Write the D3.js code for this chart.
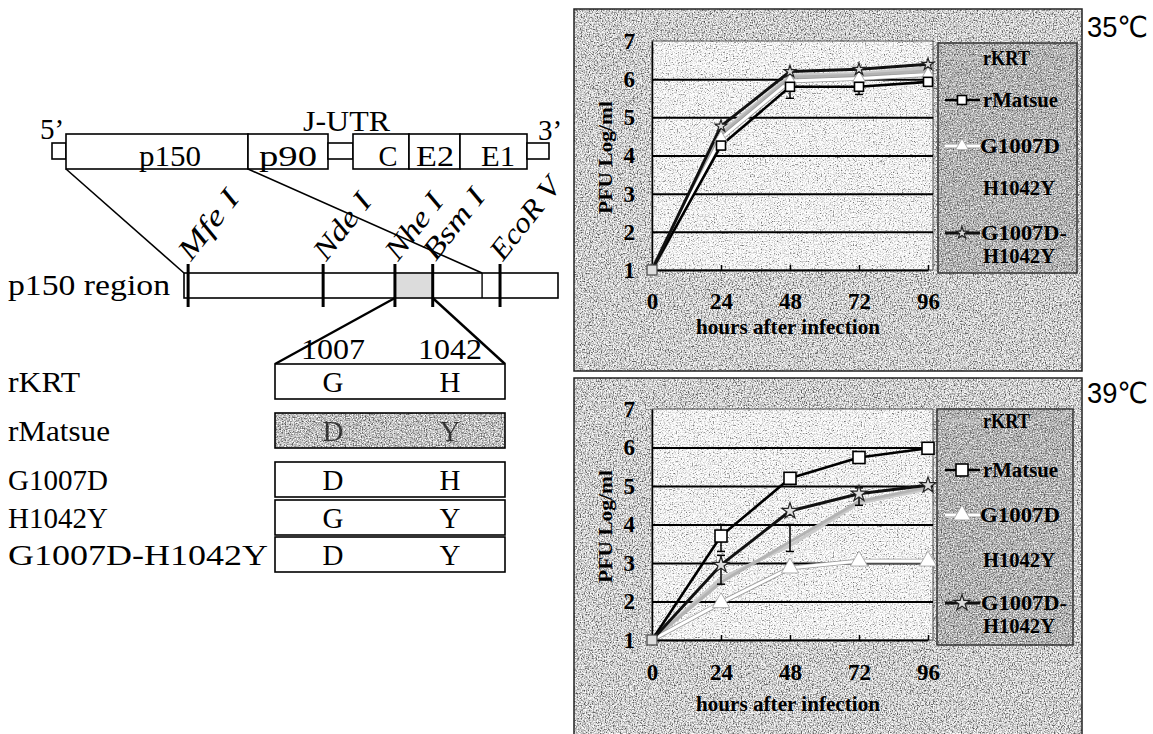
<!DOCTYPE html>
<html>
<head>
<meta charset="utf-8">
<script src="https://cdn.jsdelivr.net/npm/d3@7"></script>
<style>
  body { margin: 0; background: #fff; }
  svg { display: block; }
  text { font-family: "Liberation Serif", "Times New Roman", serif; fill: #000; }
</style>
</head>
<body>
<svg id="fig" width="1153" height="734"></svg>
<script>
// ---- chart data ----
const hours = [0, 24, 48, 72, 96];
const yTicks = [1, 2, 3, 4, 5, 6, 7];
const gridTicks = [2, 3, 4, 5, 6];
const seriesNames = ["rKRT", "rMatsue", "G1007D", "H1042Y", "G1007D-H1042Y"];

// 35 C
const rKRT35 = [1, 4.6, 6.1, 6.15, 6.3];
const rMatsue35 = [1, 4.26, 5.8, 5.8, 5.93];
const g1007d35 = [1, 4.45, 5.95, 6.02, 6.12];
const h1042y35 = [1, 4.55, 6.05, 6.1, 6.22];
const double35 = [1, 4.77, 6.2, 6.26, 6.39];
const errBars35 = [
  { name: "rMatsue", hour: 48, lo: 5.5, hi: 5.85 },
  { name: "rMatsue", hour: 72, lo: 5.6, hi: 5.85 }
];

// 39 C
const rKRT39 = [1, 2.6, 3.45, 4.55, 4.92];
const rMatsue39 = [1, 3.7, 5.2, 5.74, 5.98];
const g1007d39 = [1, 1.97, 2.87, 3.05, 3.05];
const h1042y39 = [1, 2.5, 3.55, 4.6, 4.97];
const double39 = [1, 2.95, 4.35, 4.8, 5.02];
const errBars39 = [
  { name: "rMatsue", hour: 24, lo: 3.3, hi: 4.0 },
  { name: "G1007D-H1042Y", hour: 24, lo: 2.45, hi: 3.2 },
  { name: "H1042Y", hour: 48, lo: 3.3, hi: 4.0 },
  { name: "G1007D-H1042Y", hour: 72, lo: 4.5, hi: 4.95 }
];

// ---- schematic data ----
const genomeParts = [
  { label: "", from: 0, to: 14, thin: true },
  { label: "p150", from: 14, to: 196, at: 118, len: 62 },
  { label: "p90", from: 196, to: 276, at: 236, len: 58 },
  { label: "", from: 276, to: 301, thin: true },
  { label: "C", from: 301, to: 357, at: 336, len: 19 },
  { label: "E2", from: 357, to: 408, at: 383, len: 38 },
  { label: "E1", from: 408, to: 475, at: 446, len: 34 },
  { label: "", from: 475, to: 497, thin: true }
];
const cutSites = [
  { name: "Mfe I", pos: 1.1, len: 80 },
  { name: "Nde I", pos: 37.2, len: 76 },
  { name: "Nhe I", pos: 56.4, len: 76 },
  { name: "Bsm I", pos: 66.5, len: 82 },
  { name: "EcoR V", pos: 84.5, len: 96 }
];
const regionDivider = 79.7;
const mutants = ["rKRT", "rMatsue", "G1007D", "H1042Y", "G1007D-H1042Y"];
const mutantWidths = [72, 102, 100, 100, 260];
const residue1007 = ["G", "D", "D", "G", "D"];
const residue1042 = ["H", "Y", "H", "Y", "Y"];
const residuePositions = ["1007", "1042"];

// layout of the table rows (pixels)
const rowTops = [364, 413, 462, 500, 537];
const rowH = 35;

const svg = d3.select("#fig");
const defs = svg.append("defs");

// halftone-ish speckle fills like the scanned original
function speckle(id, table, seed) {
  const f = defs.append("filter").attr("id", id)
    .attr("x", 0).attr("y", 0).attr("width", 1).attr("height", 1)
    .attr("color-interpolation-filters", "sRGB");
  f.append("feTurbulence").attr("type", "fractalNoise")
    .attr("baseFrequency", 0.75).attr("numOctaves", 2).attr("seed", seed);
  f.append("feColorMatrix").attr("type", "matrix")
    .attr("values", "1 0 0 0 0  1 0 0 0 0  1 0 0 0 0  0 0 0 0 1");
  const ct = f.append("feComponentTransfer");
  ["feFuncR", "feFuncG", "feFuncB"].forEach(fn =>
    ct.append(fn).attr("type", "discrete").attr("tableValues", table));
}
speckle("panelTex", "0.3 0.3 0.4 0.58 0.74 0.86 0.95 1 1 1", 3);
speckle("plotTex", "0.45 0.45 0.6 0.8 0.9 0.97 1 1 1 1", 11);
speckle("legendTex", "0.3 0.3 0.4 0.52 0.64 0.74 0.85 0.95 1 1", 5);
speckle("matsueTex", "0.3 0.3 0.4 0.55 0.68 0.8 0.9 1 1 1", 8);

function txt(g, x, y, s, o) {
  o = o || {};
  const t = g.append("text").attr("x", x).attr("y", y).text(s)
    .attr("font-size", o.size || 28)
    .attr("text-anchor", o.anchor || "start");
  if (o.bold) t.attr("font-weight", "bold");
  if (o.italic) t.attr("font-style", "italic");
  if (o.family) t.style("font-family", o.family);
  if (o.len) t.attr("textLength", o.len).attr("lengthAdjust", "spacingAndGlyphs");
  if (o.rotate) t.attr("transform", `rotate(${o.rotate},${x},${y})`);
  return t;
}

// ================= left schematic =================
const left = svg.append("g");
const gx = d3.scaleLinear().domain([0, 497]).range([52, 549]);
const boxTop = 134, boxBot = 169, thinTop = 143, thinBot = 159;

left.selectAll("rect.part").data(genomeParts).join("rect")
  .attr("x", d => gx(d.from)).attr("width", d => gx(d.to) - gx(d.from))
  .attr("y", d => d.thin ? thinTop : boxTop)
  .attr("height", d => d.thin ? thinBot - thinTop : boxBot - boxTop)
  .attr("fill", "#fff").attr("stroke", "#000").attr("stroke-width", 1.6);
genomeParts.filter(d => d.label).forEach(d =>
  txt(left, gx(d.at), 166, d.label, { size: 29, anchor: "middle", len: d.len }));
txt(left, 40, 139, "5\u2019", { size: 29 });
txt(left, 538, 140, "3\u2019", { size: 29 });
txt(left, 303, 131, "J-UTR", { size: 29, len: 87 });

// p150 region
const rx = d3.scaleLinear().domain([0, 100]).range([184, 558]);
const rTop = 273, rBot = 298;
txt(left, 8, 295, "p150 region", { size: 29, len: 162 });
const nhe = cutSites[2].pos, bsm = cutSites[3].pos;
left.append("rect").attr("x", rx(0)).attr("y", rTop).attr("width", rx(100) - rx(0)).attr("height", rBot - rTop)
  .attr("fill", "#fff").attr("stroke", "#000").attr("stroke-width", 1.6);
left.append("rect").attr("x", rx(nhe)).attr("y", rTop + 1).attr("width", rx(bsm) - rx(nhe)).attr("height", rBot - rTop - 2)
  .attr("fill", "#dcdcdc");
left.append("line").attr("x1", rx(regionDivider)).attr("x2", rx(regionDivider))
  .attr("y1", rTop).attr("y2", rBot).attr("stroke", "#000").attr("stroke-width", 1.4);
left.selectAll("line.cut").data(cutSites).join("line")
  .attr("x1", d => rx(d.pos)).attr("x2", d => rx(d.pos))
  .attr("y1", rTop - 9).attr("y2", rBot + 9)
  .attr("stroke", "#000").attr("stroke-width", 3);
cutSites.forEach(d =>
  txt(left, rx(d.pos) + 3, rTop - 11, d.name, { size: 29, italic: true, len: d.len, rotate: -52 }));

// zoom lines genome -> region
left.append("line").attr("x1", gx(14)).attr("y1", boxBot).attr("x2", rx(0)).attr("y2", rTop)
  .attr("stroke", "#000").attr("stroke-width", 1.6);
left.append("line").attr("x1", gx(196)).attr("y1", boxBot).attr("x2", rx(regionDivider)).attr("y2", rTop)
  .attr("stroke", "#000").attr("stroke-width", 1.6);

// mutant table
const tx0 = 275, tx1 = 505;
const colX = d3.scalePoint().domain(residuePositions).range([333, 450]);
left.append("line").attr("x1", rx(nhe)).attr("y1", rBot).attr("x2", tx0).attr("y2", rowTops[0])
  .attr("stroke", "#000").attr("stroke-width", 2.4);
left.append("line").attr("x1", rx(bsm)).attr("y1", rBot).attr("x2", tx1).attr("y2", rowTops[0])
  .attr("stroke", "#000").attr("stroke-width", 2.4);
residuePositions.forEach(p => txt(left, colX(p), 359, p, { size: 29, anchor: "middle", len: 64 }));

mutants.forEach((m, i) => {
  const y0 = rowTops[i], h = rowH;
  left.append("rect").attr("x", tx0).attr("y", y0).attr("width", tx1 - tx0).attr("height", h)
    .attr("fill", m === "rMatsue" ? "#999" : "#fff")
    .attr("filter", m === "rMatsue" ? "url(#matsueTex)" : null);
  left.append("rect").attr("x", tx0).attr("y", y0).attr("width", tx1 - tx0).attr("height", h)
    .attr("fill", "none").attr("stroke", "#000").attr("stroke-width", 1.6);
  const base = y0 + h / 2 + 10;
  txt(left, 8, base, m, { size: 29, len: mutantWidths[i] });
  txt(left, colX("1007"), base, residue1007[i], { size: 29, anchor: "middle" })
    .style("opacity", m === "rMatsue" ? 0.7 : 1);
  txt(left, colX("1042"), base, residue1042[i], { size: 29, anchor: "middle" })
    .style("opacity", m === "rMatsue" ? 0.7 : 1);
});

// ================= growth curve panels =================
const seriesStyle = {
  "rKRT": { color: "#c9c9c9", width: 3, marker: null },
  "rMatsue": { color: "#000", width: 2.6, marker: "square" },
  "G1007D": { color: "#fff", width: 3, marker: "triangle" },
  "H1042Y": { color: "#b3b3b3", width: 3, marker: null },
  "G1007D-H1042Y": { color: "#111", width: 3, marker: "star" }
};
const drawOrder = ["rKRT", "H1042Y", "G1007D", "rMatsue", "G1007D-H1042Y"];

const panels = [
  {
    title: "35\u2103", titleY: 37, top: 9, bottom: 371, y7: 41, y1: 270,
    tickY: 309, xTitleY: 334, legend: { x: 938, y: 43, w: 139, h: 230 },
    rows: [65, 107, 153, 195, 240], markSize: 9,
    values: { "rKRT": rKRT35, "rMatsue": rMatsue35, "G1007D": g1007d35, "H1042Y": h1042y35, "G1007D-H1042Y": double35 },
    errors: errBars35
  },
  {
    title: "39\u2103", titleY: 403, top: 378, bottom: 740, y7: 409, y1: 640,
    tickY: 680, xTitleY: 711, legend: { x: 937, y: 409, w: 136, h: 236 },
    rows: [428, 477, 522, 567, 610], markSize: 12,
    values: { "rKRT": rKRT39, "rMatsue": rMatsue39, "G1007D": g1007d39, "H1042Y": h1042y39, "G1007D-H1042Y": double39 },
    errors: errBars39
  }
];

function drawMarker(g, type, cx, cy, s) {
  if (type === "square") {
    g.append("rect").attr("x", cx - s / 2).attr("y", cy - s / 2).attr("width", s).attr("height", s)
      .attr("fill", "#fff").attr("stroke", "#000").attr("stroke-width", 1.6);
  } else if (type === "triangle") {
    g.append("path").attr("d", d3.symbol(d3.symbolTriangle, s * s * 0.9)())
      .attr("transform", `translate(${cx},${cy})`)
      .attr("fill", "#fff").attr("stroke", "#999").attr("stroke-width", 0.8);
  } else if (type === "star") {
    g.append("path").attr("d", d3.symbol(d3.symbolStar, s * s * 0.55)())
      .attr("transform", `translate(${cx},${cy})`)
      .attr("fill", "#ddd").attr("stroke", "#222").attr("stroke-width", 1.2);
  }
}

panels.forEach(p => {
  const g = svg.append("g");
  g.append("rect").attr("x", 574).attr("y", p.top).attr("width", 508).attr("height", p.bottom - p.top)
    .attr("fill", "#c4c4c4").attr("filter", "url(#panelTex)");
  g.append("rect").attr("x", 574).attr("y", p.top).attr("width", 508).attr("height", p.bottom - p.top)
    .attr("fill", "none").attr("stroke", "#222").attr("stroke-width", 1.5);

  const x = d3.scaleLinear().domain([0, 96]).range([652, 928]);
  const y = d3.scaleLinear().domain([1, 7]).range([p.y1, p.y7]);
  const plotR = 933;

  g.append("rect").attr("x", x(0)).attr("y", y(7)).attr("width", plotR - x(0)).attr("height", y(1) - y(7))
    .attr("fill", "#e4e4e4").attr("filter", "url(#plotTex)");
  g.append("rect").attr("x", x(0)).attr("y", y(7)).attr("width", plotR - x(0)).attr("height", y(1) - y(7))
    .attr("fill", "none").attr("stroke", "#555").attr("stroke-width", 1);

  // grid lines
  g.append("g").attr("transform", `translate(${x(0)},0)`)
    .call(d3.axisLeft(y).tickValues(gridTicks).tickSize(-(plotR - x(0))).tickFormat(""))
    .call(a => a.select(".domain").remove())
    .call(a => a.selectAll("line").attr("stroke", "#000").attr("stroke-width", 2));

  // y axis
  const ya = g.append("g").attr("transform", `translate(${x(0)},0)`)
    .call(d3.axisLeft(y).tickValues(yTicks).tickSize(0).tickPadding(17).tickFormat(d3.format("d")));
  ya.select(".domain").attr("stroke", "#000").attr("stroke-width", 1.5);
  ya.selectAll("text").attr("font-size", 23).attr("font-weight", "bold")
    .style("font-family", "'Liberation Serif', serif").attr("fill", "#000");

  // x axis
  const xa = g.append("g").attr("transform", `translate(0,${y(1)})`)
    .call(d3.axisBottom(x).tickValues(hours).tickSizeInner(-5).tickSizeOuter(0).tickPadding(0).tickFormat(d3.format("d")));
  xa.select(".domain").attr("stroke", "#000").attr("stroke-width", 2);
  xa.selectAll("line").attr("stroke", "#000").attr("stroke-width", 1.5);
  xa.selectAll("text").attr("y", p.tickY - y(1)).attr("dy", 0).attr("font-size", 23).attr("font-weight", "bold")
    .style("font-family", "'Liberation Serif', serif").attr("fill", "#000");

  txt(g, 788, p.xTitleY, "hours after infection", { size: 21, bold: true, anchor: "middle", len: 184 });
  const ymid = (y(7) + y(1)) / 2 + 2;
  txt(g, 612, ymid, "PFU Log/ml", { size: 19, bold: true, anchor: "middle", len: 113, rotate: -90 });

  // lines
  const line = d3.line().x((d, i) => x(hours[i])).y(d => y(d));
  drawOrder.forEach(name => {
    const st = seriesStyle[name];
    const vals = p.values[name];
    if (name === "G1007D") {
      g.append("path").attr("d", line(vals)).attr("fill", "none")
        .attr("stroke", "#9a9a9a").attr("stroke-width", st.width + 1.6).attr("stroke-linejoin", "round");
    }
    g.append("path").attr("d", line(vals)).attr("fill", "none")
      .attr("stroke", st.color).attr("stroke-width", st.width).attr("stroke-linejoin", "round");
  });
  // error bars
  p.errors.forEach(e => {
    const cx = x(e.hour);
    g.append("line").attr("x1", cx).attr("x2", cx).attr("y1", y(e.lo)).attr("y2", y(e.hi))
      .attr("stroke", "#000").attr("stroke-width", 1.5);
    [e.lo, e.hi].forEach(v => g.append("line").attr("x1", cx - 4).attr("x2", cx + 4)
      .attr("y1", y(v)).attr("y2", y(v)).attr("stroke", "#000").attr("stroke-width", 1.5));
  });
  // markers
  drawOrder.forEach(name => {
    const st = seriesStyle[name];
    if (!st.marker) return;
    p.values[name].forEach((v, i) => {
      if (i === 0) return;
      drawMarker(g, st.marker, x(hours[i]), y(v), p.markSize);
    });
  });
  // common origin marker
  g.append("rect").attr("x", x(0) - 5).attr("y", y(1) - 5).attr("width", 10).attr("height", 10)
    .attr("fill", "#ddd").attr("stroke", "#444").attr("stroke-width", 1.2);

  // legend
  const L = p.legend;
  const lg = g.append("g");
  lg.append("rect").attr("x", L.x).attr("y", L.y).attr("width", L.w).attr("height", L.h)
    .attr("fill", "#a8a8a8").attr("filter", "url(#legendTex)");
  lg.append("rect").attr("x", L.x).attr("y", L.y).attr("width", L.w).attr("height", L.h)
    .attr("fill", "none").attr("stroke", "#333").attr("stroke-width", 1.5);
  seriesNames.forEach((name, i) => {
    const st = seriesStyle[name];
    const ty = p.rows[i];
    const my = ty - 7;
    if (st.marker) {
      if (name === "G1007D") {
        lg.append("line").attr("x1", 945).attr("x2", 980).attr("y1", my).attr("y2", my)
          .attr("stroke", "#999").attr("stroke-width", st.width + 1.6);
      }
      lg.append("line").attr("x1", 945).attr("x2", 980).attr("y1", my).attr("y2", my)
        .attr("stroke", st.color).attr("stroke-width", st.width);
      drawMarker(lg, st.marker, 962, my, p.markSize);
    } else {
      lg.append("line").attr("x1", 945).attr("x2", 980).attr("y1", my).attr("y2", my)
        .attr("stroke", st.color).attr("stroke-width", st.width).attr("opacity", 0.5);
    }
    if (name === "G1007D-H1042Y") {
      txt(lg, 981, ty, "G1007D-", { size: 20, bold: true, len: 86 });
      txt(lg, 983, ty + 23, "H1042Y", { size: 20, bold: true, len: 72 });
    } else {
      const w = { "rKRT": 47, "rMatsue": 75, "G1007D": 80, "H1042Y": 72 }[name];
      txt(lg, name === "G1007D" ? 980 : 983, ty, name, { size: 20, bold: true, len: w });
    }
  });

  txt(svg, 1087, p.titleY, p.title, { size: 29, len: 61, family: "'Liberation Sans', 'DejaVu Sans', sans-serif" });
});
</script>
</body>
</html>
